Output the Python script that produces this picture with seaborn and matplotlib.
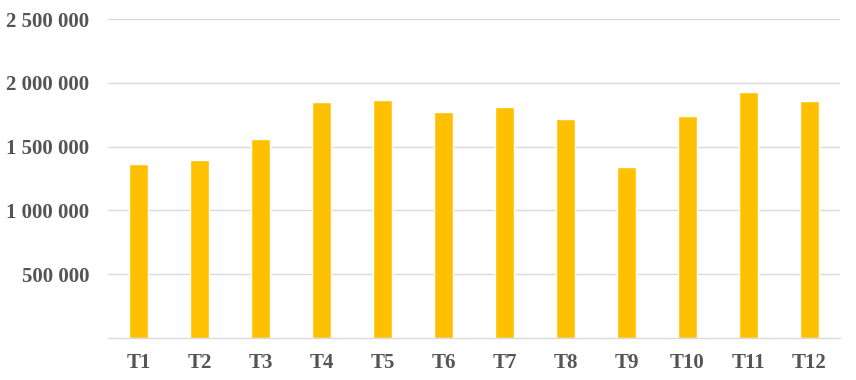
import matplotlib
matplotlib.use("Agg")
import matplotlib.pyplot as plt
import seaborn as sns
import pandas as pd
from matplotlib.ticker import FuncFormatter

categories = ["T1", "T2", "T3", "T4", "T5", "T6", "T7", "T8", "T9", "T10", "T11", "T12"]
values = [1364000, 1395000, 1562000, 1850000, 1868000, 1771000,
          1810000, 1716000, 1343000, 1740000, 1928000, 1857000]
yticks = [500000, 1000000, 1500000, 2000000, 2500000]

df = pd.DataFrame({"cat": categories, "val": values})

sns.set_theme(style="white")
plt.rcParams["font.family"] = ["Liberation Serif", "DejaVu Serif"]

fig = plt.figure(figsize=(8.56, 3.8), dpi=100)
ax = fig.add_axes([108/856, 42/380, 732/856, 319/380])

sns.barplot(data=df, x="cat", y="val", color="#FFC000", saturation=1,
            width=0.31, ax=ax)

ax.set_xlim(-0.5, len(categories) - 0.5)
ax.set_ylim(0, 2500000)
ax.set_yticks(yticks)
ax.yaxis.set_major_formatter(FuncFormatter(lambda v, p: f"{int(v):,}".replace(",", " ")))
ax.set_axisbelow(True)
ax.grid(axis="y", color="#D9D9D9", linewidth=1)
ax.grid(axis="x", visible=False)
for s in ["top", "left", "right"]:
    ax.spines[s].set_visible(False)
ax.spines["bottom"].set_color("#D9D9D9")
ax.spines["bottom"].set_linewidth(1)
ax.tick_params(axis="both", length=0, labelcolor="#555555")
ax.tick_params(axis="y", pad=13.5)
ax.tick_params(axis="x", pad=11)
for lab in ax.get_xticklabels() + ax.get_yticklabels():
    lab.set_fontweight("bold")
    lab.set_fontsize(15)
ax.set_xlabel("")
ax.set_ylabel("")

fig.savefig("out.png", dpi=100)
